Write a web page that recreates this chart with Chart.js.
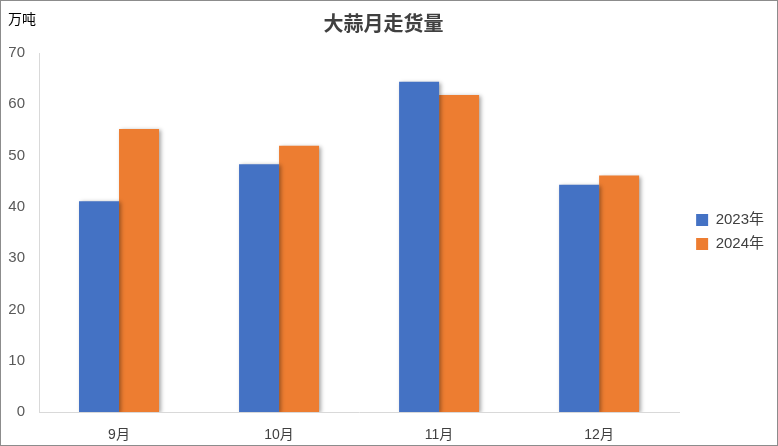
<!DOCTYPE html>
<html>
<head>
<meta charset="utf-8">
<script src="https://cdn.jsdelivr.net/npm/chart.js@4.4.1/dist/chart.umd.min.js"></script>
<style>
  body { margin: 0; background: #fff; }
  .chart-box { width: 778px; height: 446px; box-sizing: border-box; border: 1px solid #8c8c8c; background: #fff; }
</style>
</head>
<body>
<div class="chart-box"><canvas id="garlicChart" width="776" height="444"></canvas></div>
<script>
// 大蒜月走货量 (万吨)
const months = ['9月', '10月', '11月', '12月'];
const sales2023 = [41.1, 48.3, 64.4, 44.3];
const sales2024 = [55.2, 51.9, 61.8, 46.1];
const yTicks = [0, 10, 20, 30, 40, 50, 60, 70];

const cjk = '"Liberation Sans", "Noto Sans CJK SC", sans-serif';

// unit label in the top-left corner
const unitLabel = {
  id: 'unitLabel',
  afterDraw(chart) {
    const ctx = chart.ctx;
    ctx.save();
    ctx.fillStyle = '#000';
    ctx.font = '14px ' + cjk;
    ctx.textBaseline = 'middle';
    ctx.fillText('万吨', 7, 19);
    ctx.restore();
  }
};

// soft shadow behind the bars
const barShadow = {
  id: 'barShadow',
  beforeDatasetDraw(chart) {
    const ctx = chart.ctx;
    ctx.save();
    ctx.shadowColor = 'rgba(0,0,0,0.35)';
    ctx.shadowBlur = 4;
    ctx.shadowOffsetX = 2;
    ctx.shadowOffsetY = 1;
  },
  afterDatasetDraw(chart) {
    chart.ctx.restore();
  }
};

// push the legend a little further from the plot
const legendNudge = {
  id: 'legendNudge',
  afterLayout(chart) {
    if (chart.legend) {
      chart.legend.left += 8;
      chart.legend.top += 4;
      chart.legend.bottom += 4;
    }
  }
};

new Chart(document.getElementById('garlicChart'), {
  type: 'bar',
  data: {
    labels: months,
    datasets: [
      { label: '2023年', data: sales2023, backgroundColor: '#4472C4', borderWidth: 0 },
      { label: '2024年', data: sales2024, backgroundColor: '#ED7D31', borderWidth: 0 }
    ]
  },
  options: {
    responsive: false,
    animation: false,
    devicePixelRatio: 1,
    datasets: { bar: { barPercentage: 1, categoryPercentage: 0.5 } },
    layout: { padding: { top: 10, right: 11, left: 0, bottom: 0 } },
    plugins: {
      title: {
        display: true,
        text: '大蒜月走货量',
        color: '#404040',
        font: { family: '"Noto Sans CJK SC", sans-serif', size: 20, weight: 'bold' },
        padding: { top: 0, bottom: 18 }
      },
      legend: {
        position: 'right',
        labels: {
          boxWidth: 12,
          boxHeight: 12,
          color: '#404040',
          font: { family: cjk, size: 15 },
          padding: 9
        }
      },
      tooltip: { enabled: false }
    },
    scales: {
      x: {
        grid: { display: false },
        border: { color: '#d9d9d9' },
        ticks: { color: '#404040', font: { family: cjk, size: 14 }, padding: 7 },
        afterFit(scale) { scale.height = 33; }
      },
      y: {
        min: 0,
        max: 70,
        afterBuildTicks(scale) { scale.ticks = yTicks.map(v => ({ value: v })); },
        grid: { display: false },
        border: { color: '#d9d9d9' },
        ticks: { color: '#595959', font: { family: cjk, size: 15 }, padding: 6 },
        afterFit(scale) { scale.width = 38; }
      }
    }
  },
  plugins: [unitLabel, barShadow, legendNudge]
});
</script>
</body>
</html>
